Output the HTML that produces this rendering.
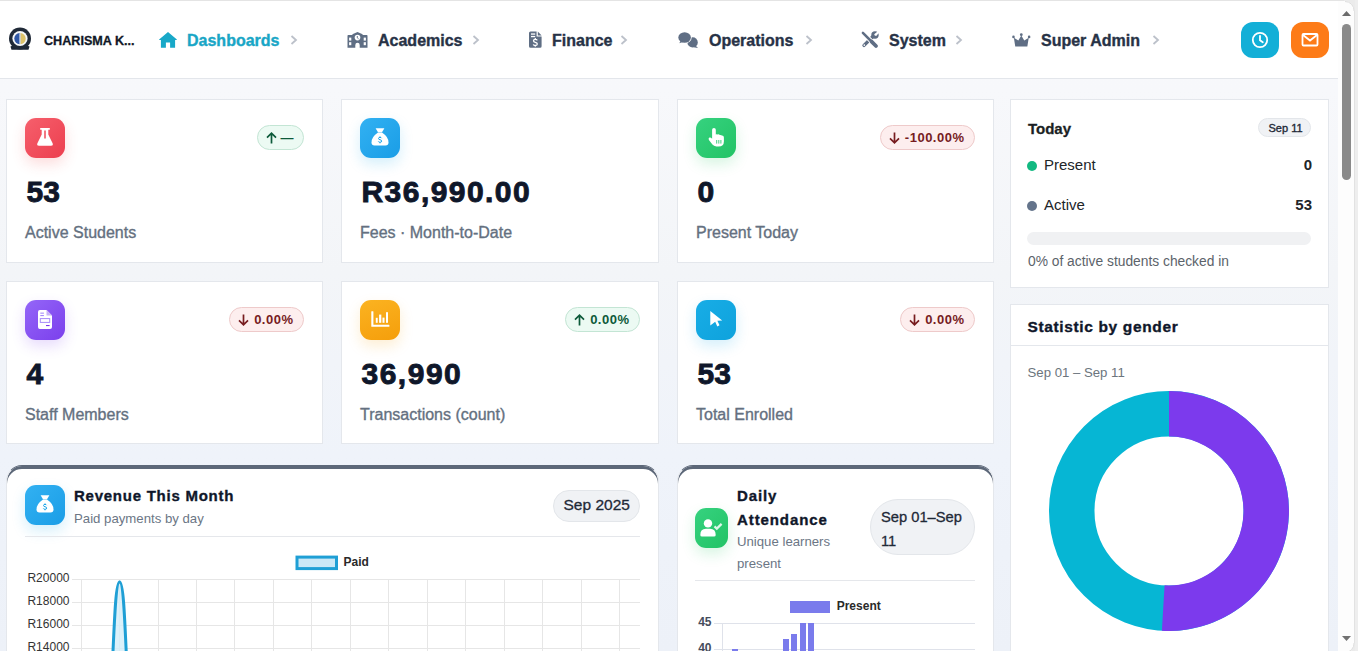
<!DOCTYPE html>
<html><head><meta charset="utf-8"><title>Dashboard</title>
<style>
*{box-sizing:border-box;margin:0;padding:0}
html,body{width:1358px;height:651px;overflow:hidden}
body{position:relative;background:linear-gradient(180deg,#f8f9fb 0px,#f7f8fb 90px,#f3f5f8 272px,#eff3fa 455px,#edf1f8 651px);font-family:"Liberation Sans",sans-serif;color:#0f172a}
.a{position:absolute}
.t{position:absolute;line-height:1;white-space:nowrap}
.b{font-weight:bold}
#topline{left:0;top:0;width:1358px;height:1px;background:#e4e4e4}
#hdr{left:0;top:1px;width:1338px;height:78px;background:#fff;border-bottom:1px solid #e3e6eb}
.nav{font-size:16px;font-weight:bold;color:#273246;-webkit-text-stroke:.35px currentColor}
.chev{position:absolute}
.btn{position:absolute;top:22px;width:38px;height:36px;border-radius:12px}
.card{position:absolute;background:#fff;border:1px solid #e4e7ec}
.ic{position:absolute;width:40px;height:40px;border-radius:11px}
.num{font-size:30px;font-weight:bold;color:#0f172a;-webkit-text-stroke:.9px currentColor}
.lbl{font-size:16px;color:#647080;-webkit-text-stroke:.35px currentColor}
.badge{position:absolute;height:25px;border-radius:13px;font-size:13px;font-weight:bold;letter-spacing:.5px;display:flex;align-items:center;padding:0 9px 0 8px;gap:5px;line-height:1}
.badge svg{display:block}
.bg-g{background:#ecfaf3;border:1px solid #c3e5d4;color:#0d5a3a}
.bg-r{background:#fdeeee;border:1px solid #eecaca;color:#771c1f}
.ccard{position:absolute;background:#fff;border:1px solid #e4e7ec;border-top-color:#5d6879;border-radius:16px 16px 0 0;box-shadow:inset 0 3px 0 #5d6879}
.grid{position:absolute;background:#e5e5e5}

.seg{font-size:15px;color:#212529}
.pill{position:absolute;background:#f0f2f5;border:1px solid #e3e6ea;border-radius:999px}
#sb{left:1338px;top:1px;width:16px;height:650px;background:#fdfdfd}
#frame{left:1354px;top:0;width:4px;height:651px;background:#eeeeee;border-left:1px solid #e2e2e2}
</style></head>
<body>
<div id="topline" class="a"></div>
<div id="hdr" class="a"></div>

<!-- logo -->
<svg class="a" style="left:8px;top:27px" width="24" height="25" viewBox="0 0 24 25">
  <path d="M2.5 19.5 L6 18 L18 18 L21.5 19.5 L20.5 22.8 L3.5 22.8Z" fill="#1c2533"/>
  <circle cx="12" cy="11.5" r="11" fill="#1f2937"/>
  <circle cx="12" cy="11.5" r="7.6" fill="#f4f6f8"/>
  <path d="M11.6 6 a5.3 5.6 0 0 0 0 11.2z" fill="#2f57a5"/>
  <path d="M12.4 6 a5.3 5.6 0 0 1 0 11.2z" fill="#dcc26a"/>
  <path d="M12 6.5 V16.5" stroke="#b9c6dd" stroke-width="1"/>
</svg>
<div class="t b" style="left:44px;top:35px;font-size:12.6px;color:#111827;-webkit-text-stroke:.3px currentColor">CHARISMA K...</div>

<!-- nav: Dashboards -->
<svg class="a" style="left:159px;top:31px" width="19" height="17" viewBox="0 0 19 17">
  <path d="M9 1 L17.6 8.2 Q18.2 8.9 17.4 8.9 H16.1 V16.7 H11.1 V11.5 H6.9 V16.7 H1.9 V8.9 H0.6 Q-0.2 8.9 0.4 8.2 Z" fill="#18a8c8"/>
</svg>
<div class="t nav" style="left:187px;top:33px;color:#19a6c6">Dashboards</div>
<svg class="chev" style="left:290px;top:35px" width="8" height="10" viewBox="0 0 8 10"><path d="M1.5 1 L6 5 L1.5 9" stroke="#bcc1ca" stroke-width="1.8" fill="none"/></svg>

<!-- Academics -->
<svg class="a" style="left:347px;top:31px" width="21" height="17" viewBox="0 0 21 17">
  <path d="M1.3 3.9 H5.4 V3.2 L10.5 0.9 L15.6 3.2 V3.9 H19.7 Q20.5 3.9 20.5 4.7 V16.8 H0.5 V4.7 Q0.5 3.9 1.3 3.9Z" fill="#5f6e84"/>
  <circle cx="10.5" cy="6.6" r="2.8" fill="#fff"/>
  <path d="M10.3 5 V6.8 L11.6 7.8" stroke="#5f6e84" stroke-width=".9" fill="none"/>
  <rect x="2.1" y="6.6" width="2.2" height="3" fill="#fff"/><rect x="2.1" y="11.2" width="2.2" height="3" fill="#fff"/>
  <rect x="16.7" y="6.6" width="2.2" height="3" fill="#fff"/><rect x="16.7" y="11.2" width="2.2" height="3" fill="#fff"/>
  <path d="M8.3 16.9 V14 A2.2 2.2 0 0 1 12.7 14 V16.9Z" fill="#fff"/>
</svg>
<div class="t nav" style="left:378px;top:33px">Academics</div>
<svg class="chev" style="left:472px;top:35px" width="8" height="10" viewBox="0 0 8 10"><path d="M1.5 1 L6 5 L1.5 9" stroke="#bcc1ca" stroke-width="1.8" fill="none"/></svg>

<!-- Finance -->
<svg class="a" style="left:529px;top:31px" width="13" height="17" viewBox="0 0 13 17">
  <path d="M1.5 0.5 H7.6 V5.6 H12.6 V15.3 Q12.6 16.8 11.1 16.8 H1.5 Q0 16.8 0 15.3 V2 Q0 0.5 1.5 0.5Z" fill="#5f6e84"/>
  <path d="M8.8 0.5 L12.6 4.4 H8.8Z" fill="#5f6e84"/>
  <rect x="2" y="2.4" width="4.2" height="1.3" fill="#fff"/><rect x="2" y="4.9" width="4.2" height="1.3" fill="#fff"/>
  <path d="M8.2 9.4 Q7.9 8.4 6.3 8.4 Q4.5 8.4 4.5 9.8 Q4.5 11 6.3 11.3 Q8.3 11.6 8.3 13 Q8.3 14.5 6.3 14.5 Q4.6 14.5 4.3 13.4 M6.3 7.1 V8.4 M6.3 14.5 V15.8" stroke="#fff" stroke-width="1.3" fill="none"/>
</svg>
<div class="t nav" style="left:552px;top:33px">Finance</div>
<svg class="chev" style="left:620px;top:35px" width="8" height="10" viewBox="0 0 8 10"><path d="M1.5 1 L6 5 L1.5 9" stroke="#bcc1ca" stroke-width="1.8" fill="none"/></svg>

<!-- Operations -->
<svg class="a" style="left:677px;top:31px" width="22" height="18" viewBox="0 0 22 18">
  <ellipse cx="15.6" cy="11.4" rx="5.2" ry="5.1" fill="#5f6e84"/>
  <path d="M18.5 14.5 L21 17 L16.5 16.2Z" fill="#5f6e84"/>
  <ellipse cx="7.6" cy="6.5" rx="7.1" ry="5.9" fill="#fff"/>
  <ellipse cx="7.6" cy="6.5" rx="6.3" ry="5.2" fill="#5f6e84"/>
  <path d="M3.6 10 L2.2 12.2 L6 11Z" fill="#5f6e84"/>
</svg>
<div class="t nav" style="left:709px;top:33px">Operations</div>
<svg class="chev" style="left:805px;top:35px" width="8" height="10" viewBox="0 0 8 10"><path d="M1.5 1 L6 5 L1.5 9" stroke="#bcc1ca" stroke-width="1.8" fill="none"/></svg>

<!-- System -->
<svg class="a" style="left:861px;top:31px" width="18" height="18" viewBox="0 0 18 18">
  <path d="M3 14.4 L12.2 5.2" stroke="#5f6e84" stroke-width="3.4" stroke-linecap="round"/>
  <circle cx="14" cy="4" r="3.7" fill="#5f6e84"/>
  <path d="M13.6 3.2 L16.6 0.2 L18.2 1.8 L15.2 4.8Z" fill="#fff"/>
  <circle cx="14.6" cy="3.6" r="1.2" fill="#fff"/>
  <circle cx="3.3" cy="14.1" r=".85" fill="#fff"/>
  <path d="M2.2 2.2 L15.2 15.2" stroke="#fff" stroke-width="4.6" stroke-linecap="round"/>
  <path d="M1.9 1.9 L10 10" stroke="#5f6e84" stroke-width="2.5" stroke-linecap="round"/>
  <path d="M10.6 10.6 L15 15" stroke="#5f6e84" stroke-width="3.8" stroke-linecap="round"/>
</svg>
<div class="t nav" style="left:889px;top:33px">System</div>
<svg class="chev" style="left:955px;top:35px" width="8" height="10" viewBox="0 0 8 10"><path d="M1.5 1 L6 5 L1.5 9" stroke="#bcc1ca" stroke-width="1.8" fill="none"/></svg>

<!-- Super Admin -->
<svg class="a" style="left:1012.3px;top:33px" width="18.6" height="14.9" viewBox="0 0 20 16">
  <path d="M10 2.6 L13.2 8 L18 5 L16.5 14.5 L3.5 14.5 L2 5 L6.8 8Z" fill="#5f6e84"/>
  <circle cx="10" cy="1.8" r="1.5" fill="#5f6e84"/><circle cx="1.6" cy="4.2" r="1.4" fill="#5f6e84"/><circle cx="18.4" cy="4.2" r="1.4" fill="#5f6e84"/>
</svg>
<div class="t nav" style="left:1041px;top:33px">Super Admin</div>
<svg class="chev" style="left:1152px;top:35px" width="8" height="10" viewBox="0 0 8 10"><path d="M1.5 1 L6 5 L1.5 9" stroke="#bcc1ca" stroke-width="1.8" fill="none"/></svg>

<!-- header buttons -->
<div class="btn" style="left:1241px;background:#13afd7"></div>
<svg class="a" style="left:1251px;top:31px" width="18" height="18" viewBox="0 0 18 18">
  <circle cx="9" cy="9" r="7.2" stroke="#fff" stroke-width="1.8" fill="none"/>
  <path d="M9 4.8 V9.2 L11.8 11.2" stroke="#fff" stroke-width="1.8" fill="none" stroke-linecap="round"/>
</svg>
<div class="btn" style="left:1291px;background:#fd7b17"></div>
<svg class="a" style="left:1301px;top:32px" width="18" height="16" viewBox="0 0 18 16">
  <rect x="1.5" y="2" width="15" height="11.5" stroke="#fff" stroke-width="1.8" fill="none" rx="1"/>
  <path d="M2 3 L9 8.5 L16 3" stroke="#fff" stroke-width="1.8" fill="none"/>
</svg>

<!-- stat cards -->
<div class="card" style="left:6px;top:99px;width:317px;height:164px">
  <div class="ic" style="left:18px;top:18px;background:linear-gradient(135deg,#f65f6c,#ec3f4f);box-shadow:0 6px 14px rgba(239,68,68,.18)"><svg class="a" style="left:12px;top:10px" width="16" height="18" viewBox="0 0 16 18"><path d="M3.2 0 H12.8 V1.7 H11.3 V6.5 L15.6 15.2 Q16.6 17.8 13.8 17.8 H2.2 Q-0.6 17.8 0.4 15.2 L4.7 6.5 V1.7 H3.2Z" fill="#fff"/><path d="M8 2.4 V10.6" stroke="#ee4b59" stroke-width="1.5"/></svg></div>
  <div class="t num" style="left:19.5px;top:77px;letter-spacing:0px">53</div>
  <div class="t lbl" style="left:18px;top:125px">Active Students</div>
  <div class="badge bg-g" style="right:18.5px;top:25px"><svg width="11" height="12" viewBox="0 0 11 12"><path d="M5.5 11.5 V1.2 M1 5.6 L5.5 1.2 L10 5.6" stroke="currentColor" stroke-width="1.7" fill="none"/></svg><span style="letter-spacing:0;margin-left:-1px">—</span></div>
</div>
<div class="card" style="left:341px;top:99px;width:318px;height:164px">
  <div class="ic" style="left:18px;top:18px;background:linear-gradient(135deg,#32b1f2,#1a9de6);box-shadow:0 6px 14px rgba(14,165,233,.18)"><svg class="a" style="left:11px;top:10px" width="18" height="18" viewBox="0 0 18 18"><path d="M4.6 0.3 H13.4 L11 4.2 H7Z" fill="#fff"/><path d="M7 4.6 H11 Q17.5 9 17.5 14.5 Q17.5 17.5 14.5 17.5 H3.5 Q0.5 17.5 0.5 14.5 Q0.5 9 7 4.6Z" fill="#fff"/><path d="M10.6 10.2 Q10.3 9.4 9 9.4 Q7.5 9.4 7.5 10.5 Q7.5 11.5 9 11.7 Q10.7 12 10.7 13.1 Q10.7 14.3 9 14.3 Q7.6 14.3 7.3 13.4 M9 8.4 V9.4 M9 14.3 V15.3" stroke="#1ea6ea" stroke-width="1" fill="none"/></svg></div>
  <div class="t num" style="left:19.5px;top:77px;letter-spacing:1.45px">R36,990.00</div>
  <div class="t lbl" style="left:18px;top:125px">Fees · Month-to-Date</div>
</div>
<div class="card" style="left:677px;top:99px;width:317px;height:164px">
  <div class="ic" style="left:18px;top:18px;background:linear-gradient(135deg,#36d27f,#22c365);box-shadow:0 6px 14px rgba(34,197,94,.18)"><svg class="a" style="left:12px;top:10px" width="16" height="19" viewBox="0 0 16 19"><path d="M4.1 1.8 Q4.1 0 5.95 0 Q7.8 0 7.8 1.8 V6.6 Q8.6 5.9 9.8 6.4 Q10.9 6 11.8 7 Q13 6.6 14 7.6 Q15.9 7.6 15.9 9.6 V13.4 Q15.9 18.4 10.6 18.4 H8.4 Q5.8 18.4 4.4 16.6 L0.9 12 Q0 10.4 1.4 9.6 Q2.6 9 3.6 10.2 L4.1 10.8Z" fill="#fff"/><path d="M8.7 12 V15.6 M10.8 12 V15.6 M12.9 12 V15.6" stroke="#2ccb70" stroke-width=".9"/></svg></div>
  <div class="t num" style="left:19.5px;top:77px;letter-spacing:0px">0</div>
  <div class="t lbl" style="left:18px;top:125px">Present Today</div>
  <div class="badge bg-r" style="right:18.5px;top:25px"><svg width="11" height="12" viewBox="0 0 11 12"><path d="M5.5 0.5 V10.8 M1 6.4 L5.5 10.8 L10 6.4" stroke="currentColor" stroke-width="1.7" fill="none"/></svg><span>-100.00%</span></div>
</div>
<div class="card" style="left:6px;top:281px;width:317px;height:163px">
  <div class="ic" style="left:18px;top:18px;background:linear-gradient(135deg,#9466f8,#7b3fec);box-shadow:0 6px 14px rgba(124,58,237,.18)"><svg class="a" style="left:13px;top:10px" width="14" height="19" viewBox="0 0 14 19"><path d="M1.8 0 H8.5 L14 5.5 V17 Q14 19 12 19 H1.8 Q0 19 0 17 V2 Q0 0 1.8 0Z" fill="#fff"/><path d="M8.5 0 V5.5 H14" fill="#c8b3f7"/><rect x="2.3" y="2.6" width="3.6" height="1.1" fill="#a78bfa"/><rect x="2.3" y="5" width="3.6" height="1.1" fill="#a78bfa"/><rect x="2.3" y="8.6" width="9.4" height="3.8" fill="none" stroke="#a78bfa" stroke-width="1"/><rect x="8" y="15" width="3.6" height="1.1" fill="#7c3aed"/></svg></div>
  <div class="t num" style="left:19.5px;top:77px;letter-spacing:0px">4</div>
  <div class="t lbl" style="left:18px;top:125px">Staff Members</div>
  <div class="badge bg-r" style="right:18.5px;top:25px"><svg width="11" height="12" viewBox="0 0 11 12"><path d="M5.5 0.5 V10.8 M1 6.4 L5.5 10.8 L10 6.4" stroke="currentColor" stroke-width="1.7" fill="none"/></svg><span>0.00%</span></div>
</div>
<div class="card" style="left:341px;top:281px;width:318px;height:163px">
  <div class="ic" style="left:18px;top:18px;background:linear-gradient(160deg,#fbb321,#f59e0b);box-shadow:0 6px 14px rgba(245,158,11,.18)"><svg class="a" style="left:11px;top:11px" width="19" height="17" viewBox="0 0 19 17"><path d="M0.3 0.6 Q0.3 0.2 0.8 0.2 H1.9 Q2.4 0.2 2.4 0.6 V13.8 H17.9 Q18.4 13.8 18.4 14.3 V15.3 Q18.4 15.8 17.9 15.8 H0.8 Q0.3 15.8 0.3 15.3Z" fill="#fff"/><rect x="4.8" y="6.8" width="1.9" height="5" fill="#fff"/><rect x="8.1" y="3.6" width="2.2" height="8.2" fill="#fff"/><rect x="11.5" y="6.6" width="2" height="5.2" fill="#fff"/><rect x="15" y="1.2" width="2" height="10.6" fill="#fff"/></svg></div>
  <div class="t num" style="left:19.5px;top:77px;letter-spacing:1.5px">36,990</div>
  <div class="t lbl" style="left:18px;top:125px">Transactions (count)</div>
  <div class="badge bg-g" style="right:18.5px;top:25px"><svg width="11" height="12" viewBox="0 0 11 12"><path d="M5.5 11.5 V1.2 M1 5.6 L5.5 1.2 L10 5.6" stroke="currentColor" stroke-width="1.7" fill="none"/></svg><span>0.00%</span></div>
</div>
<div class="card" style="left:677px;top:281px;width:317px;height:163px">
  <div class="ic" style="left:18px;top:18px;background:linear-gradient(135deg,#18ade6,#0ea2dc);box-shadow:0 6px 14px rgba(14,165,233,.18)"><svg class="a" style="left:14px;top:11px" width="13" height="17" viewBox="0 0 13 17"><path d="M0.3 0 L12.2 9.6 L7.4 9.8 L9.5 14.3 L7.3 15.4 L5.2 10.8 L0.3 14.6Z" fill="#fff"/></svg></div>
  <div class="t num" style="left:19.5px;top:77px;letter-spacing:0px">53</div>
  <div class="t lbl" style="left:18px;top:125px">Total Enrolled</div>
  <div class="badge bg-r" style="right:18.5px;top:25px"><svg width="11" height="12" viewBox="0 0 11 12"><path d="M5.5 0.5 V10.8 M1 6.4 L5.5 10.8 L10 6.4" stroke="currentColor" stroke-width="1.7" fill="none"/></svg><span>0.00%</span></div>
</div>

<!-- today card -->
<div class="card" style="left:1010px;top:99px;width:319px;height:189px">
  <div class="t b" style="left:17px;top:21px;font-size:15px;color:#1b1f24;-webkit-text-stroke:.3px currentColor">Today</div>
  <div class="pill" style="left:247px;top:18px;width:53px;height:19px"></div>
  <div class="t" style="left:257.5px;top:23px;font-size:11px;color:#1f2937;-webkit-text-stroke:.35px currentColor">Sep 11</div>
  <div class="a" style="left:16px;top:61px;width:10px;height:10px;border-radius:50%;background:#12b981"></div>
  <div class="t seg" style="left:33px;top:57px">Present</div>
  <div class="t b seg" style="right:16px;top:57px">0</div>
  <div class="a" style="left:16px;top:101px;width:10px;height:10px;border-radius:50%;background:#64748b"></div>
  <div class="t seg" style="left:33px;top:97px">Active</div>
  <div class="t b seg" style="right:16px;top:97px">53</div>
  <div class="a" style="left:16px;top:132px;width:284px;height:13px;border-radius:7px;background:#f0f1f3"></div>
  <div class="t" style="left:17px;top:155px;font-size:13.8px;color:#5c636a">0% of active students checked in</div>
</div>
<!-- gender card -->
<div class="card" style="left:1010px;top:304px;width:319px;height:360px">
  <div class="t b" style="left:16.5px;top:13.5px;font-size:15.5px;letter-spacing:.64px;color:#0f172a;-webkit-text-stroke:.35px currentColor">Statistic by gender</div>
  <div class="a" style="left:0;top:40px;width:317px;height:1px;background:#e4e7ec"></div>
  <div class="t" style="left:16.5px;top:61px;font-size:13.2px;color:#6c757d">Sep 01 – Sep 11</div>
</div>
<svg class="a" style="left:1049px;top:391px" width="240" height="240" viewBox="-120 -120 240 240">
  <circle r="97.25" fill="none" stroke="#06b6d4" stroke-width="45.5"/>
  <path d="M0 -120 A120 120 0 1 1 -7.12 119.79 L-4.42 74.37 A74.5 74.5 0 1 0 0 -74.5 Z" fill="#7c3aed"/>
</svg>

<!-- revenue card -->
<div class="ccard" style="left:6px;top:465px;width:653px;height:260px"></div>
<div class="ic" style="left:25px;top:485px;background:linear-gradient(135deg,#32b1f2,#1a9de6);box-shadow:0 6px 14px rgba(14,165,233,.18)">
<svg class="a" style="left:11px;top:10px" width="18" height="18" viewBox="0 0 18 18"><path d="M4.6 0.3 H13.4 L11 4.2 H7Z" fill="#fff"/><path d="M7 4.6 H11 Q17.5 9 17.5 14.5 Q17.5 17.5 14.5 17.5 H3.5 Q0.5 17.5 0.5 14.5 Q0.5 9 7 4.6Z" fill="#fff"/><path d="M10.6 10.2 Q10.3 9.4 9 9.4 Q7.5 9.4 7.5 10.5 Q7.5 11.5 9 11.7 Q10.7 12 10.7 13.1 Q10.7 14.3 9 14.3 Q7.6 14.3 7.3 13.4 M9 8.4 V9.4 M9 14.3 V15.3" stroke="#1ea6ea" stroke-width="1" fill="none"/></svg></div>
<div class="t b" style="left:74px;top:487.8px;font-size:15px;letter-spacing:.75px;color:#0f172a;-webkit-text-stroke:.35px currentColor">Revenue This Month</div>
<div class="t" style="left:74px;top:511.5px;font-size:13.2px;color:#6b7685">Paid payments by day</div>
<div class="pill" style="left:553px;top:490px;width:87px;height:32px"></div>
<div class="t" style="left:563.5px;top:497px;font-size:15.5px;color:#1f2937;-webkit-text-stroke:.3px currentColor">Sep 2025</div>
<div class="a" style="left:25px;top:536px;width:615px;height:1px;background:#e5e7eb"></div>

<!-- attendance card -->
<div class="ccard" style="left:677px;top:465px;width:317px;height:260px"></div>
<div class="ic" style="left:695px;top:508px;width:33px;background:linear-gradient(135deg,#36d27f,#22c365);box-shadow:0 6px 14px rgba(34,197,94,.18)">
<svg class="a" style="left:5px;top:11px" width="23" height="18" viewBox="0 0 23 18"><circle cx="8" cy="4.4" r="4.2" fill="#fff"/><path d="M0.3 16 Q0.3 9.8 6 9.8 H10 Q15.7 9.8 15.7 16 Q15.7 17.6 14 17.6 H2 Q0.3 17.6 0.3 16Z" fill="#fff"/><path d="M14.5 7.4 L16.8 9.6 L21.6 4.9" stroke="#fff" stroke-opacity=".85" stroke-width="2.2" fill="none"/></svg></div>
<div class="t b" style="left:737px;top:488.2px;font-size:15px;letter-spacing:.9px;color:#0f172a;-webkit-text-stroke:.35px currentColor">Daily</div>
<div class="t b" style="left:737px;top:511.6px;font-size:15px;letter-spacing:.9px;color:#0f172a;-webkit-text-stroke:.35px currentColor">Attendance</div>
<div class="t" style="left:737px;top:535px;font-size:13.2px;color:#6b7685">Unique learners</div>
<div class="t" style="left:737px;top:556.7px;font-size:13.2px;color:#6b7685">present</div>
<div class="pill" style="left:870px;top:499px;width:105px;height:56px;border-radius:28px"></div>
<div class="t" style="left:881px;top:510px;font-size:14.7px;color:#1f2937;-webkit-text-stroke:.3px currentColor">Sep 01–Sep</div>
<div class="t" style="left:881px;top:533.6px;font-size:14.7px;color:#1f2937;-webkit-text-stroke:.3px currentColor">11</div>
<div class="a" style="left:695px;top:580px;width:280px;height:1px;background:#e5e7eb"></div>

<!-- charts -->
<svg class="a" style="left:0;top:0" width="1358" height="651" viewBox="0 0 1358 651" shape-rendering="crispEdges">
  <g fill="#e6e6e6">
    <rect x="72" y="579" width="568" height="1"/><rect x="72" y="602" width="568" height="1"/>
    <rect x="72" y="625" width="568" height="1"/><rect x="72" y="648" width="568" height="1"/>
    <rect x="81" y="579" width="1" height="80"/>
    <rect x="119" y="579" width="1" height="80"/>
    <rect x="158" y="579" width="1" height="80"/>
    <rect x="196" y="579" width="1" height="80"/>
    <rect x="234" y="579" width="1" height="80"/>
    <rect x="273" y="579" width="1" height="80"/>
    <rect x="311" y="579" width="1" height="80"/>
    <rect x="350" y="579" width="1" height="80"/>
    <rect x="388" y="579" width="1" height="80"/>
    <rect x="427" y="579" width="1" height="80"/>
    <rect x="465" y="579" width="1" height="80"/>
    <rect x="504" y="579" width="1" height="80"/>
    <rect x="542" y="579" width="1" height="80"/>
    <rect x="581" y="579" width="1" height="80"/>
    <rect x="619" y="579" width="1" height="80"/>
  </g>
  <g fill="#dfe2ea">
    <rect x="714" y="623" width="261" height="1"/><rect x="714" y="649" width="261" height="1"/>
    <rect x="722" y="623" width="1" height="40"/>
  </g>
  <g fill="#7a7bec">
    <rect x="732.22" y="649.30" width="6" height="10.70"/>
    <rect x="782.68" y="638.90" width="6" height="21.10"/>
    <rect x="791.09" y="633.70" width="6" height="26.30"/>
    <rect x="799.50" y="623.30" width="6" height="36.70"/>
    <rect x="807.90" y="623.30" width="6" height="36.70"/>
  </g>
  <rect x="790" y="601" width="40" height="12" fill="#7a7bec"/>
</svg>
<svg class="a" style="left:0;top:0" width="1358" height="651" viewBox="0 0 1358 651">
  <path d="M100.40 809.20 C114.57 725.38 111.92 582.00 119.60 582.00 C127.28 582.00 124.63 725.38 138.80 809.20 Z" fill="#d3edf9" fill-opacity=".8"/>
  <path d="M100.40 809.20 C114.57 725.38 111.92 582.00 119.60 582.00 C127.28 582.00 124.63 725.38 138.80 809.20" fill="none" stroke="#1f9fd5" stroke-width="3"/>
  <rect x="297" y="557.1" width="39.5" height="11.5" fill="#cbe8f6" stroke="#1f9fd5" stroke-width="3"/>
  <g font-family="Liberation Sans" font-size="12" fill="#333" text-anchor="end">
    <text x="69.5" y="582">R20000</text><text x="69.5" y="605">R18000</text><text x="69.5" y="628">R16000</text><text x="69.5" y="651">R14000</text>
  </g>
  <g font-family="Liberation Sans" font-size="12" font-weight="bold" fill="#454d5c" text-anchor="end">
    <text x="711.5" y="626">45</text><text x="711.5" y="652">40</text>
  </g>
  <text x="343.6" y="565.6" font-family="Liberation Sans" font-size="12" font-weight="bold" fill="#2a2a2a">Paid</text>
  <text x="836.7" y="609.7" font-family="Liberation Sans" font-size="12" font-weight="bold" fill="#2a2a2a">Present</text>
</svg>

<!-- scrollbar and frame -->
<div id="sb" class="a"></div>
<div class="a" style="left:1342px;top:24px;width:9px;height:156px;border-radius:4.5px;background:#8a8a8a"></div>
<svg class="a" style="left:1341px;top:10px" width="11" height="7" viewBox="0 0 11 7"><path d="M1 6 L5.5 1 L10 6Z" fill="#6b6b6b"/></svg>
<svg class="a" style="left:1341px;top:635px" width="11" height="7" viewBox="0 0 11 7"><path d="M1 1 L5.5 6 L10 1Z" fill="#727272"/></svg>
<div id="frame" class="a"></div>
<svg class="a" style="left:1344px;top:643px" width="11" height="11" viewBox="0 0 11 11"><path d="M0 11 H11 V0 H10 A9 9 0 0 1 1 10 H0Z" fill="#ebebeb"/><path d="M10 0 A9 9 0 0 1 1 9.5" stroke="#dedede" stroke-width="1" fill="none"/></svg>
<svg class="a" style="left:1344px;top:0" width="11" height="11" viewBox="0 0 11 11"><path d="M0 0 H11 V11 H10 A9 9 0 0 0 1 1 H0Z" fill="#ebebeb"/><path d="M10 11 A9 9 0 0 0 1 1.5" stroke="#dedede" stroke-width="1" fill="none"/></svg>

</body></html>
